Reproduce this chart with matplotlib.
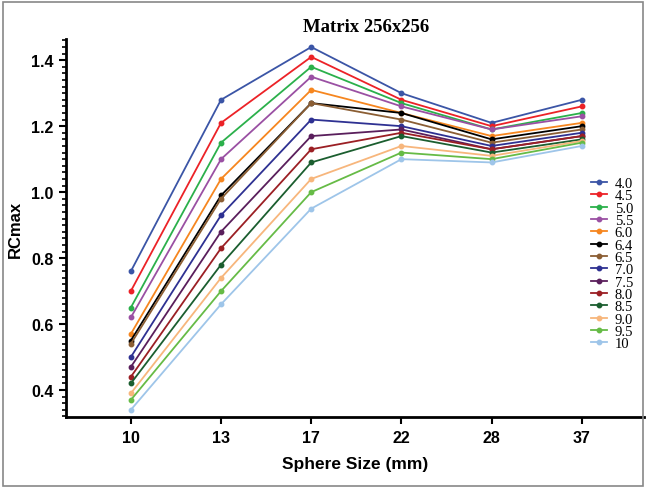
import matplotlib
matplotlib.use("Agg")
import matplotlib.pyplot as plt
from matplotlib.ticker import MultipleLocator
from matplotlib.patches import Rectangle

sizes = ['10', '13', '17', '22', '28', '37']
labels = ['4.0', '4.5', '5.0', '5.5', '6.0', '6.4', '6.5',
          '7.0', '7.5', '8.0', '8.5', '9.0', '9.5', '10']
colors = ['#3b55a6', '#ec2227', '#2bb04b', '#9a50a3', '#f6861f', '#000000', '#8b5e34',
          '#2e3192', '#5a1f5c', '#9b1f24', '#1b5e2f', '#f7b67c', '#66bb46', '#9ec5e9']

rc_40 = [0.76, 1.28, 1.44, 1.30, 1.21, 1.28]
rc_45 = [0.70, 1.21, 1.41, 1.28, 1.20, 1.26]
rc_50 = [0.65, 1.15, 1.38, 1.27, 1.19, 1.24]
rc_55 = [0.62, 1.10, 1.35, 1.26, 1.19, 1.23]
rc_60 = [0.57, 1.04, 1.31, 1.24, 1.17, 1.21]
rc_64 = [0.55, 0.99, 1.27, 1.24, 1.16, 1.20]
rc_65 = [0.54, 0.98, 1.27, 1.22, 1.15, 1.19]
rc_70 = [0.50, 0.93, 1.22, 1.20, 1.14, 1.18]
rc_75 = [0.47, 0.88, 1.17, 1.19, 1.13, 1.17]
rc_80 = [0.44, 0.83, 1.13, 1.18, 1.13, 1.17]
rc_85 = [0.42, 0.78, 1.09, 1.17, 1.12, 1.16]
rc_90 = [0.39, 0.74, 1.04, 1.14, 1.11, 1.155]
rc_95 = [0.37, 0.70, 1.00, 1.12, 1.10, 1.15]
rc_10 = [0.34, 0.66, 0.95, 1.10, 1.09, 1.14]
series = [rc_40, rc_45, rc_50, rc_55, rc_60, rc_64, rc_65,
          rc_70, rc_75, rc_80, rc_85, rc_90, rc_95, rc_10]

fig = plt.figure(figsize=(6.46, 4.89), dpi=100)
ax = fig.add_axes([0.102, 0.145, 0.895, 0.773])

xs = list(range(len(sizes)))
for vals, lab, col in zip(series, labels, colors):
    ax.plot(xs, vals, color=col, lw=1.3, marker='o', ms=3.2, label=lab)

ax.set_xlim(-0.72, 5.69)
ax.set_ylim(0.318, 1.464)
ax.set_xticks(xs)
ax.set_xticklabels(sizes)
ax.yaxis.set_major_locator(MultipleLocator(0.2))
ax.yaxis.set_minor_locator(MultipleLocator(0.02))
ax.tick_params(axis='both', which='major', width=1.5, length=5, labelsize=11.5, pad=4)
ax.tick_params(axis='y', which='minor', width=1.2, length=3)
for t in ax.get_xticklabels() + ax.get_yticklabels():
    t.set_fontweight('bold')
    t.set_family('Liberation Sans')

for s in ['top', 'right']:
    ax.spines[s].set_visible(False)
for s in ['left', 'bottom']:
    ax.spines[s].set_linewidth(2)

ax.set_xlabel('Sphere Size (mm)', fontsize=12.5, fontweight='bold', family='Liberation Sans', labelpad=8)
ax.set_ylabel('RCmax', fontsize=12, fontweight='bold', family='Liberation Sans', labelpad=6)
ax.set_title('Matrix 256x256', fontsize=13.5, fontweight='bold', family='Liberation Serif',
             pad=6, x=0.52)

leg = ax.legend(loc='lower right', bbox_to_anchor=(0.994, 0.157), frameon=False,
                prop={'family': 'Liberation Serif', 'size': 10.5},
                handlelength=1.1, handletextpad=0.55, labelspacing=-0.06, borderpad=0)

fig.patches.append(Rectangle((0.004, 0.004), 0.992, 0.99, transform=fig.transFigure,
                             fill=False, edgecolor='#888888', lw=1.2))

fig.savefig('out.png', dpi=100)
